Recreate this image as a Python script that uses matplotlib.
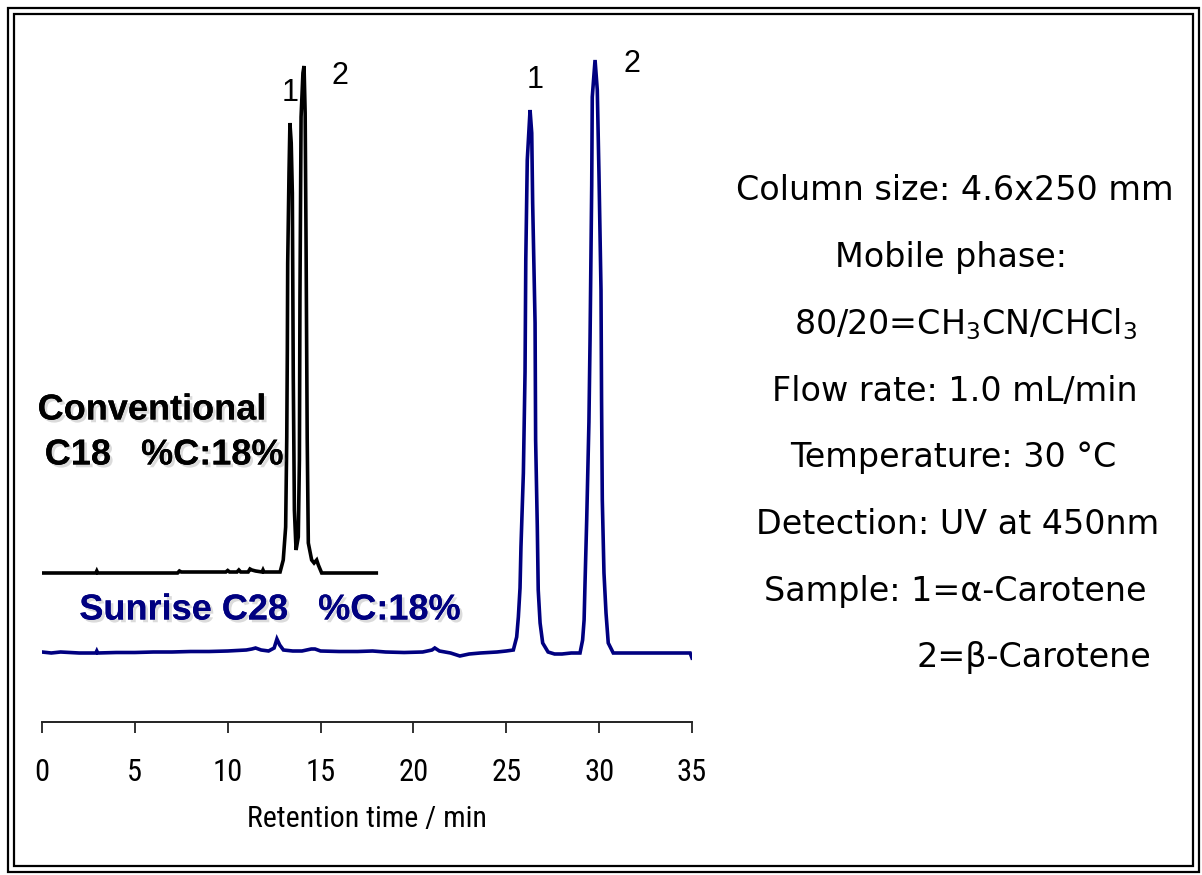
import matplotlib
matplotlib.use("Agg")
import matplotlib.pyplot as plt
import matplotlib.patheffects as pe
from matplotlib.patches import Rectangle

# Conventional C18 trace: retention time (min) and signal above its baseline
c18_time = [0.0, 2.9, 2.95, 3.0, 7.3, 7.4, 7.5, 9.9, 10.0, 10.1, 10.5, 10.6, 10.7,
            11.1, 11.2, 11.3, 11.5, 11.85, 11.9, 11.95, 12.6, 12.82, 12.99, 13.12,
            13.18, 13.21, 13.23, 13.3, 13.35, 13.42, 13.48, 13.53, 13.59, 13.68,
            13.80, 13.86, 13.89, 13.95, 14.05, 14.11, 14.17, 14.22, 14.28, 14.34,
            14.52, 14.65, 14.79, 14.88, 15.06, 18.0]
c18_signal = [0, 0, 2, 0, 0, 2, 1, 1, 2.5, 1, 1, 3, 1,
              1, 4, 3, 2, 1, 3, 1, 1, 1, 13, 46,
              136, 223, 310, 400, 450, 430, 380, 196, 63, 23,
              36, 113, 276, 456, 500, 507, 460, 326, 135, 30,
              13, 10, 13, 8, 0, 0]

# Sunrise C28 trace
c28_time = [0.0, 0.5, 1.0, 2.0, 2.9, 2.95, 3.0, 4.0, 5.0, 6.0, 7.0, 8.0, 9.0, 10.0,
            11.0, 11.3, 11.5, 11.8, 12.2, 12.5, 12.65, 12.8, 13.0, 13.5, 14.0, 14.5,
            14.7, 15.0, 16.0, 17.0, 17.8, 18.5, 19.5, 20.5, 21.0, 21.15, 21.4, 22.0,
            22.5, 23.0, 23.6, 24.5, 25.0, 25.38, 25.56, 25.65, 25.74, 25.79, 25.92,
            26.01, 26.05, 26.13, 26.28, 26.37, 26.42, 26.55, 26.58, 26.67, 26.72,
            26.82, 26.96, 27.25, 27.6, 28.0, 28.5, 28.97, 29.11, 29.19, 29.24, 29.33,
            29.45, 29.51, 29.60, 29.63, 29.78, 29.90, 29.99, 30.10, 30.13, 30.17,
            30.26, 30.37, 30.49, 30.76, 32.0, 33.0, 34.5, 34.9, 35.0]
c28_signal = [1, 0, 1, 0, 0, 2, 0, 0.5, 0.5, 1, 1, 1.5, 1.5, 2,
              3, 4, 5, 3, 2, 5, 14, 8, 3, 2, 2, 4,
              4, 2, 1.5, 1.5, 2, 1, 0.5, 1, 3, 5, 2, 0,
              -3, -1, 0, 1, 2, 3, 16, 36, 65, 106, 180,
              281, 393, 493, 543, 520, 450, 330, 213, 126, 63,
              30, 10, 1, -1, -1, 0, 0, 13, 33, 70, 133,
              231, 313, 468, 556, 593, 563, 480, 363, 253, 153,
              80, 40, 10, 0, 0, 0, 0, 0, -5]

c18_offset = 149
c28_offset = 69

peak_labels = ["1", "2", "1", "2"]
peak_label_pos = [(13.35, 629), (16.05, 646), (26.55, 642), (31.77, 658)]

x_ticks = [0, 5, 10, 15, 20, 25, 30, 35]

conditions = [
    "Column size: 4.6x250 mm",
    "Mobile phase:",
    r"80/20=CH$_\mathregular{3}$CN/CHCl$_\mathregular{3}$",
    "Flow rate: 1.0 mL/min",
    "Temperature: 30 \u00b0C",
    "Detection: UV at 450nm",
    "Sample: 1=\u03b1-Carotene",
    "2=\u03b2-Carotene",
]
cond_x = [955, 951, 966, 955, 953, 958, 955, 1034]

navy = "#000080"
W, H = 1202, 875
narrow = ["Roboto Condensed", "DejaVu Sans"]

fig = plt.figure(figsize=(W / 100, H / 100), dpi=100)
ax = fig.add_axes([42 / W, (H - 722) / H, 650 / W, 707 / H])

ax.plot(c18_time, [s + c18_offset for s in c18_signal], color="black", lw=2.6,
        solid_joinstyle="miter")
ax.plot(c28_time, [s + c28_offset for s in c28_signal], color=navy, lw=2.6,
        solid_joinstyle="miter")

ax.set_xlim(0, 35)
ax.set_ylim(0, 707)
for side in ["top", "right", "left"]:
    ax.spines[side].set_visible(False)
ax.spines["bottom"].set_linewidth(1.4)
ax.spines["bottom"].set_color("#222222")
ax.set_yticks([])
ax.set_xticks(x_ticks)
ax.tick_params(axis="x", direction="out", length=8, width=1.3, color="#222222",
               pad=18, labelsize=22)
for lbl in ax.get_xticklabels():
    lbl.set_family(narrow)
    lbl.set_stretch("condensed")
ax.set_xlabel("Retention time / min", fontsize=21.5, labelpad=13,
              family=narrow, fontstretch="condensed")

for lab, (tx, ty) in zip(peak_labels, peak_label_pos):
    ax.text(tx, ty, lab, fontsize=22, ha="center", va="center",
            family=["Liberation Sans", "DejaVu Sans"])

shadow = [pe.withSimplePatchShadow(offset=(2, -2), shadow_rgbFace="#999999", alpha=0.35),
          pe.Normal()]
fig.text(152 / W, 1 - 410 / H, "Conventional", fontsize=26, fontweight="bold",
         ha="center", va="center", family=["Liberation Sans", "DejaVu Sans"],
         path_effects=shadow)
fig.text(164 / W, 1 - 455 / H, "C18   %C:18%", fontsize=26, fontweight="bold",
         ha="center", va="center", family=["Liberation Sans", "DejaVu Sans"],
         path_effects=shadow)
fig.text(270 / W, 1 - 610 / H, "Sunrise C28   %C:18%", fontsize=26,
         fontweight="bold", color=navy, ha="center", va="center",
         family=["Liberation Sans", "DejaVu Sans"], path_effects=shadow)

for i, (line, cx) in enumerate(zip(conditions, cond_x)):
    fig.text(cx / W, 1 - (191 + i * 66.7) / H, line, fontsize=24,
             ha="center", va="center", family=["DejaVu Sans"])

# double frame
fig.patches.append(Rectangle((8 / W, 3 / H), (W - 11) / W, (H - 11) / H,
                             transform=fig.transFigure, fill=False,
                             edgecolor="black", lw=1.6))
fig.patches.append(Rectangle((14 / W, 9 / H), (W - 23) / W, (H - 23) / H,
                             transform=fig.transFigure, fill=False,
                             edgecolor="black", lw=1.6))

fig.savefig("out.png", dpi=100)
